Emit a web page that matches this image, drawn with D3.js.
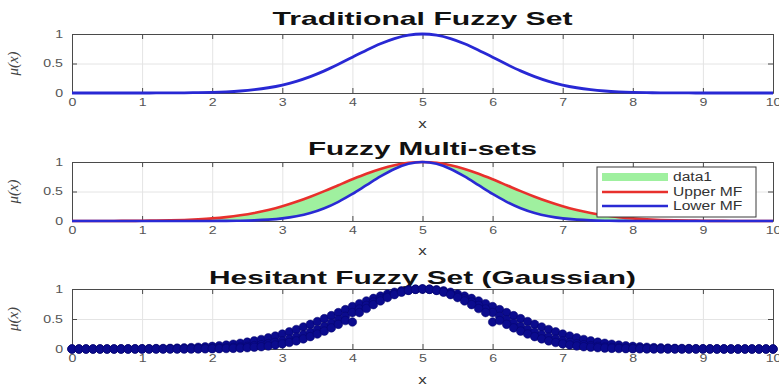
<!DOCTYPE html>
<html>
<head>
<meta charset="utf-8">
<script src="https://cdn.jsdelivr.net/npm/d3@7"></script>
<style>
  html, body { margin: 0; padding: 0; background: #fff; }
  svg { display: block; }
</style>
</head>
<body>
<svg id="chart" width="779" height="387"></svg>
<script>
// ---- data ----
const panelTitles = ["Traditional Fuzzy Set", "Fuzzy Multi-sets", "Hesitant Fuzzy Set (Gaussian)"];
const xTicks = [0, 1, 2, 3, 4, 5, 6, 7, 8, 9, 10];
const yTicks = [0, 0.5, 1];
const yTickLabels = ["0", "0.5", "1"];
const legendLabels = ["data1", "Upper MF", "Lower MF"];

// sample positions of the membership curves (step 0.2 for lines, 0.1 for markers)
const xLine = d3.range(51).map(i => i / 5);
const xHesitant = d3.range(101).map(i => i / 10);

// traditional fuzzy set membership
const traditionalMF = [0,0,0,0,0,0,0.001,0.002,0.003,0.006,0.011,0.020,0.034,0.056,0.089,0.135,0.198,0.278,0.375,0.487,0.607,0.726,0.835,0.923,0.980,1,
  0.980,0.923,0.835,0.726,0.607,0.487,0.375,0.278,0.198,0.135,0.089,0.056,0.034,0.020,0.011,0.006,0.003,0.002,0.001,0,0,0,0,0,0];

// fuzzy multi-set: upper and lower membership functions
const upperMF = [0,0,0.001,0.001,0.002,0.004,0.007,0.011,0.018,0.029,0.044,0.066,0.096,0.135,0.186,0.249,0.325,0.411,0.506,0.607,0.707,0.801,0.882,0.946,0.986,1,
  0.986,0.946,0.882,0.801,0.707,0.607,0.506,0.411,0.325,0.249,0.186,0.135,0.096,0.066,0.044,0.029,0.018,0.011,0.007,0.004,0.002,0.001,0.001,0,0];
const lowerMF = [0,0,0,0,0,0,0,0,0,0,0.001,0.002,0.005,0.011,0.023,0.044,0.080,0.135,0.216,0.325,0.458,0.607,0.755,0.882,0.969,1,
  0.969,0.882,0.755,0.607,0.458,0.325,0.216,0.135,0.080,0.044,0.023,0.011,0.005,0.002,0.001,0,0,0,0,0,0,0,0,0,0];

// hesitant fuzzy set: three membership degrees per element
const hesitantA = [0,0,0,0,0,0,0,0,0,0,0,0,0,0,0,
  0.001,0.001,0.001,0.002,0.003,0.004,0.006,0.008,0.011,0.015,0.021,0.029,0.038,0.050,0.066,0.085,0.108,0.135,0.168,0.206,0.249,0.298,0.352,0.411,0.474,0.45,0.607,0.674,0.739,0.801,0.857,0.906,0.946,0.976,0.994,
  1,
  0.994,0.976,0.946,0.906,0.857,0.801,0.739,0.674,0.607,0.45,0.474,0.411,0.352,0.298,0.249,0.206,0.168,0.135,0.108,0.085,0.066,0.050,0.038,0.029,0.021,0.015,0.011,0.008,0.006,0.004,0.003,0.002,0.001,0.001,0.001,
  0,0,0,0,0,0,0,0,0,0,0,0,0,0,0];
const hesitantB = [0,0,0,0,0,0,0,0,0,0,0,0,
  0.001,0.001,0.002,0.002,0.003,0.004,0.006,0.008,0.011,0.015,0.020,0.026,0.034,0.044,0.056,0.071,0.089,0.110,0.135,0.164,0.198,0.236,0.278,0.325,0.375,0.430,0.487,0.546,0.607,0.667,0.726,0.783,0.835,0.882,0.923,0.956,0.980,0.995,
  1,
  0.995,0.980,0.956,0.923,0.882,0.835,0.783,0.726,0.667,0.607,0.546,0.487,0.430,0.375,0.325,0.278,0.236,0.198,0.164,0.135,0.110,0.089,0.071,0.056,0.044,0.034,0.026,0.020,0.015,0.011,0.008,0.006,0.004,0.003,0.002,0.002,0.001,0.001,
  0,0,0,0,0,0,0,0,0,0,0,0];
const hesitantC = [0,0,0,0,
  0.001,0.001,0.001,0.002,0.002,0.003,0.004,0.005,0.007,0.009,0.011,0.014,0.018,0.023,0.029,0.036,0.044,0.054,0.066,0.080,0.096,0.114,0.135,0.159,0.186,0.216,0.249,0.286,0.325,0.367,0.411,0.458,0.506,0.556,0.607,0.657,0.707,0.755,0.801,0.843,0.882,0.917,0.946,0.969,0.986,0.997,
  1,
  0.997,0.986,0.969,0.946,0.917,0.882,0.843,0.801,0.755,0.707,0.657,0.607,0.556,0.506,0.458,0.411,0.367,0.325,0.286,0.249,0.216,0.186,0.159,0.135,0.114,0.096,0.080,0.066,0.054,0.044,0.036,0.029,0.023,0.018,0.014,0.011,0.009,0.007,0.005,0.004,0.003,0.002,0.002,0.001,0.001,0.001,
  0,0,0,0];

// ---- layout ----
const svg = d3.select("#chart");
const left = 72, right = 773;
const panels = [
  { top: 34,  bottom: 93,  titleY: 25,  titleW: 300, xLabelY: 128 },
  { top: 162, bottom: 221, titleY: 155, titleW: 229, xLabelY: 255 },
  { top: 289, bottom: 349, titleY: 284, titleW: 427, xLabelY: 384 }
];
const fontSans = "'Liberation Sans', Arial, Helvetica, sans-serif";
const tickColor = "#555";
const boxColor = "#4a4a4a";
const stretch = 1.35;   // wide lettering used for the small texts

// widen a text selection horizontally by the given factor
function widen(sel, f) {
  sel.each(function () {
    const w = this.getComputedTextLength();
    if (w > 0) {
      d3.select(this).attr("textLength", w * f).attr("lengthAdjust", "spacingAndGlyphs");
    }
  });
}

const x = d3.scaleLinear().domain([0, 10]).range([left, right]);

function drawFrame(p, i) {
  const y = d3.scaleLinear().domain([0, 1]).range([p.bottom, p.top]);
  const h = p.bottom - p.top;
  const g = svg.append("g");

  // grid
  g.append("g").attr("transform", `translate(0,${p.bottom})`)
    .call(d3.axisBottom(x).tickValues(xTicks).tickSize(-h).tickFormat(""))
    .call(s => s.select(".domain").remove())
    .call(s => s.selectAll("line").attr("stroke", "#e4e4e4").attr("stroke-width", 1));
  g.append("g").attr("transform", `translate(${left},0)`)
    .call(d3.axisLeft(y).tickValues(yTicks).tickSize(-(right - left)).tickFormat(""))
    .call(s => s.select(".domain").remove())
    .call(s => s.selectAll("line").attr("stroke", "#e4e4e4").attr("stroke-width", 1));

  // title
  svg.append("text")
    .attr("x", (left + right) / 2).attr("y", p.titleY)
    .attr("text-anchor", "middle")
    .attr("font-family", fontSans).attr("font-weight", "bold").attr("font-size", 19)
    .attr("textLength", p.titleW).attr("lengthAdjust", "spacingAndGlyphs")
    .attr("fill", "#111")
    .text(panelTitles[i]);

  // x label
  svg.append("text")
    .attr("x", (left + right) / 2).attr("y", p.xLabelY)
    .attr("text-anchor", "middle")
    .attr("font-family", fontSans).attr("font-size", 13)
    .attr("fill", "#333")
    .text("x")
    .call(widen, 1.3);

  // y label μ(x)
  svg.append("text")
    .attr("transform", `translate(18,${(p.top + p.bottom) / 2}) rotate(-90)`)
    .attr("text-anchor", "middle")
    .attr("font-family", "'Liberation Serif', 'Times New Roman', serif")
    .attr("font-style", "italic").attr("font-size", 15)
    .attr("fill", "#444")
    .text("μ(x)");

  return { g, y };
}

function drawAxes(p, y) {
  const g = svg.append("g");
  const styleAxis = s => {
    s.select(".domain").attr("stroke", boxColor).attr("stroke-width", 1);
    s.selectAll(".tick line").attr("stroke", boxColor);
    s.selectAll("text").attr("font-family", fontSans).attr("font-size", 10.5).attr("fill", tickColor);
  };
  g.append("g").attr("transform", `translate(0,${p.bottom})`)
    .call(d3.axisBottom(x).tickValues(xTicks).tickSizeInner(-5).tickSizeOuter(0).tickPadding(6))
    .call(styleAxis)
    .call(s => s.selectAll("text").call(widen, stretch));
  g.append("g").attr("transform", `translate(0,${p.top})`)
    .call(d3.axisTop(x).tickValues(xTicks).tickSizeInner(-5).tickSizeOuter(0).tickFormat(""))
    .call(styleAxis);
  g.append("g").attr("transform", `translate(${left},0)`)
    .call(d3.axisLeft(y).tickValues(yTicks).tickSizeInner(-5).tickSizeOuter(0).tickPadding(9)
      .tickFormat((d, k) => yTickLabels[k]))
    .call(styleAxis)
    .call(s => s.selectAll("text").call(widen, stretch));
  g.append("g").attr("transform", `translate(${right},0)`)
    .call(d3.axisRight(y).tickValues(yTicks).tickSizeInner(-5).tickSizeOuter(0).tickFormat(""))
    .call(styleAxis);
}

// ---- panel 1: traditional fuzzy set ----
{
  const p = panels[0];
  const { g, y } = drawFrame(p, 0);
  drawAxes(p, y);
  const line = d3.line().x((d, k) => x(xLine[k])).y(d => y(d)).curve(d3.curveMonotoneX);
  svg.append("path").datum(traditionalMF)
    .attr("d", line).attr("fill", "none")
    .attr("stroke", "#2828d4").attr("stroke-width", 2.8);
}

// ---- panel 2: fuzzy multi-sets ----
{
  const p = panels[1];
  const { g, y } = drawFrame(p, 1);
  drawAxes(p, y);
  const band = d3.area()
    .x((d, k) => x(xLine[k]))
    .y0((d, k) => y(lowerMF[k]))
    .y1((d, k) => y(upperMF[k]))
    .curve(d3.curveMonotoneX);
  svg.append("path").datum(upperMF).attr("d", band).attr("fill", "#9ff09f");
  const line = d3.line().x((d, k) => x(xLine[k])).y(d => y(d)).curve(d3.curveMonotoneX);
  svg.append("path").datum(upperMF).attr("d", line).attr("fill", "none")
    .attr("stroke", "#e8302c").attr("stroke-width", 2.6);
  svg.append("path").datum(lowerMF).attr("d", line).attr("fill", "none")
    .attr("stroke", "#2a2ad4").attr("stroke-width", 2.6);

  // legend
  const lg = svg.append("g").attr("transform", "translate(597,167)");
  lg.append("rect").attr("width", 159).attr("height", 50)
    .attr("fill", "#fff").attr("stroke", "#3a3a3a").attr("stroke-width", 1);
  const rows = [10, 25, 39];
  lg.append("rect").attr("x", 5).attr("y", rows[0] - 4).attr("width", 66).attr("height", 8).attr("fill", "#9ff09f");
  lg.append("line").attr("x1", 5).attr("x2", 71).attr("y1", rows[1]).attr("y2", rows[1])
    .attr("stroke", "#e8302c").attr("stroke-width", 2.6);
  lg.append("line").attr("x1", 5).attr("x2", 71).attr("y1", rows[2]).attr("y2", rows[2])
    .attr("stroke", "#2a2ad4").attr("stroke-width", 2.6);
  lg.selectAll("text.lab").data(legendLabels).join("text")
    .attr("class", "lab")
    .attr("x", 76).attr("y", (d, k) => rows[k]).attr("dy", "0.36em")
    .attr("font-family", fontSans).attr("font-size", 12).attr("fill", "#333")
    .text(d => d)
    .call(widen, 1.3);
}

// ---- panel 3: hesitant fuzzy set ----
{
  const p = panels[2];
  const { g, y } = drawFrame(p, 2);
  drawAxes(p, y);
  const pts = [];
  [hesitantC, hesitantB, hesitantA].forEach(arr => {
    arr.forEach((v, k) => pts.push([xHesitant[k], v]));
  });
  svg.append("g").selectAll("circle").data(pts).join("circle")
    .attr("cx", d => x(d[0])).attr("cy", d => y(d[1])).attr("r", 4.3)
    .attr("fill", "#0b0b8e").attr("stroke", "#06066a").attr("stroke-width", 0.5);
}
</script>
</body>
</html>
